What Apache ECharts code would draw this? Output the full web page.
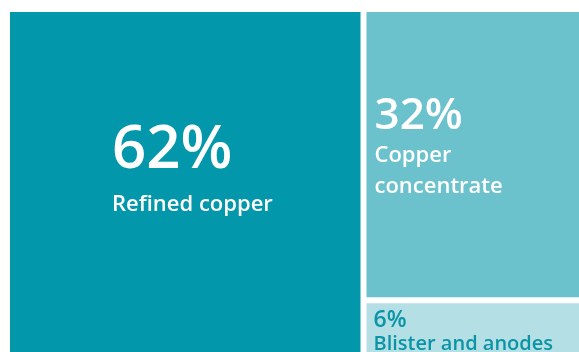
<!DOCTYPE html>
<html>
<head>
<meta charset="utf-8">
<script src="https://cdn.jsdelivr.net/npm/echarts@6/dist/echarts.min.js"></script>
<style>
html,body{margin:0;padding:0;background:#fff;}
#chart{width:579px;height:352px;}
</style>
</head>
<body>
<div id="chart"></div>
<script>
const categories = ['Refined copper', 'Copper\nconcentrate', 'Blister and anodes'];
const values = [62, 32, 6];
const colors = ['#0397AB', '#6BC2CC', '#B4DFE5'];
const textColors = ['#ffffff', '#ffffff', '#0A94A6'];

const labelCfg = [
  { position: [102, 107], big: 60, bigLH: 64, small: 22, smallLH: 44 },
  { position: [8, 80], big: 44, bigLH: 48, small: 22, smallLH: 31 },
  { position: [7, 5], big: 23, bigLH: 24, small: 20, smallLH: 24 }
];

const data = categories.map((name, i) => {
  const c = labelCfg[i];
  return {
    name: name,
    value: values[i],
    itemStyle: { color: colors[i] },
    label: {
      show: true,
      position: c.position,
      padding: 0,
      align: 'left',
      verticalAlign: 'top',
      formatter: function (p) { return '{big|' + p.value + '%}\n{small|' + p.name.split('\n').join('}\n{small|') + '}'; },
      rich: {
        big: { fontFamily: 'Open Sans', fontWeight: 600, fontSize: c.big, lineHeight: c.bigLH, color: textColors[i] },
        small: { fontFamily: 'Open Sans', fontWeight: 600, fontSize: c.small, lineHeight: c.smallLH, color: textColors[i] }
      }
    }
  };
});

const chart = echarts.init(document.getElementById('chart'), null, { renderer: 'canvas' });
chart.setOption({
  animation: false,
  backgroundColor: '#ffffff',
  series: [{
    type: 'treemap',
    left: 10,
    top: 12,
    width: 569,
    height: 340,
    roam: false,
    nodeClick: false,
    breadcrumb: { show: false },
    sort: 'desc',
    squareRatio: 0.5 * (1 + Math.sqrt(5)),
    itemStyle: { borderWidth: 0, gapWidth: 6, borderColor: '#ffffff' },
    levels: [{ itemStyle: { borderWidth: 0, gapWidth: 6 } }],
    emphasis: { disabled: true },
    data: data
  }]
});
</script>
</body>
</html>
